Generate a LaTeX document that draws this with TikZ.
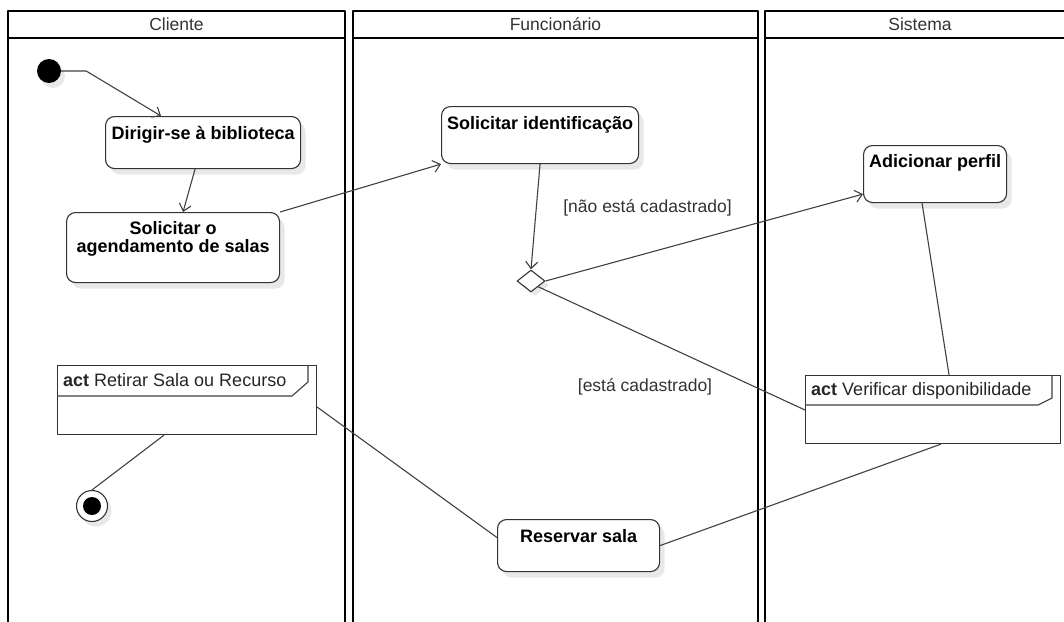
\documentclass[tikz,border=0pt]{standalone}
\usepackage{fontspec}
\setmainfont{Liberation Sans}
\usetikzlibrary{shapes.geometric, positioning, arrows.meta, calc, shadows}

\begin{document}
\begin{tikzpicture}[
    x=1pt, y=-1pt,
    line join=round,
    lane/.style={draw=black, line width=1.8pt},
    lanetitle/.style={font=\fontsize{17.5}{20}\selectfont, text=black!80},
    activity/.style={draw=black!80, line width=1.1pt, rounded corners=9pt, fill=white, inner xsep=2pt, inner ysep=0pt, align=center, anchor=north west, font=\fontsize{18}{18}\selectfont\bfseries, drop shadow={shadow xshift=5pt, shadow yshift=-6pt, fill=black!9, opacity=1}},
    decision/.style={draw=black!80, diamond, fill=white, minimum width=28pt, minimum height=22pt, inner sep=0pt, line width=1.1pt, drop shadow={shadow xshift=4pt, shadow yshift=-4pt, fill=black!9, opacity=1}},
    initial/.style={circle, fill=black, minimum size=24pt, inner sep=0pt, drop shadow={shadow xshift=4pt, shadow yshift=-5pt, fill=black!9, opacity=1}},
    final/.style={circle, draw=black!80, fill=white, minimum size=31pt, inner sep=0pt, line width=1.1pt, path picture={\fill[black] (path picture bounding box.center) circle (9pt);}, drop shadow={shadow xshift=4pt, shadow yshift=-5pt, fill=black!9, opacity=1}},
    frame/.style={draw=black!80, line width=1.1pt, fill=white, inner sep=0pt, anchor=north west},
    frametitle/.style={anchor=base west, inner sep=0pt, font=\fontsize{18}{20}\selectfont, text=black!85},
    flow/.style={draw=black!75, line width=1.1pt, -{Straight Barb[length=7pt,width=12pt]}},
    link/.style={draw=black!75, line width=1.1pt},
    guard/.style={font=\fontsize{17.5}{20}\selectfont, text=black!80}
]
    \useasboundingbox (0,0) rectangle (1064,621);
    \clip (0,0) rectangle (1064,621);

    % Swimlanes
    \draw[lane] (8,640) |- (345,11) -- (345,640);
    \draw[lane] (8,38) -- (345,38);
    \node[lanetitle] (cliente) at (176.5,24) {Cliente};

    \draw[lane] (353,640) |- (758,11) -- (758,640);
    \draw[lane] (353,38) -- (758,38);
    \node[lanetitle] (funcionario) at (555.5,24) {Funcionário};

    \draw[lane] (765,640) |- (1075,11) -- (1075,640);
    \draw[lane] (765,38) -- (1075,38);
    \node[lanetitle] (sistema) at (920,24) {Sistema};

    % Cliente
    \node[initial] (inicio) at (49,71) {};
    \node[activity, minimum width=195pt, text height=23pt, text depth=29pt] (dirigir) at (105,116) {Dirigir-se à biblioteca};
    \node[activity, minimum width=213pt, text height=40pt, text depth=30pt] (agendar) at (66,212) {Solicitar o\\agendamento de salas};

    \node[frame, minimum width=259pt, minimum height=69pt] (retirar) at (57,365) {};
    \draw[link] ([yshift=-31pt]retirar.north west) -- ++(235,0) -- ++(16,-14) -- ++(0,-17);
    \node[frametitle] (retirartitulo) at ([xshift=6pt,yshift=-21pt]retirar.north west) {\textbf{act} Retirar Sala ou Recurso};

    \node[final] (fim) at (92,506) {};

    % Funcionario
    \node[activity, minimum width=197pt, text height=23pt, text depth=34pt] (identificar) at (441,106) {Solicitar identificação};
    \node[decision] (cadastrado) at (531,281) {};
    \node[activity, minimum width=162pt, text height=23pt, text depth=29pt] (reservar) at (497,519) {Reservar sala};

    % Sistema
    \node[activity, minimum width=143pt, text height=22pt, text depth=35pt] (perfil) at (863,145) {Adicionar perfil};

    \node[frame, minimum width=255pt, minimum height=68pt] (verificar) at (805,375) {};
    \draw[link] ([yshift=-30pt]verificar.north west) -- ++(233,0) -- ++(14,-7) -- ++(0,-23);
    \node[frametitle] (verificartitulo) at ([xshift=6pt,yshift=-20pt]verificar.north west) {\textbf{act} Verificar disponibilidade};

    % Guards
    \node[guard] (naocad) at (647.5,208) {[não está cadastrado]};
    \node[guard] (simcad) at (645,387) {[está cadastrado]};

    % Flows
    \draw[flow] (inicio.east) -- ++(25,0) -- ([xshift=-42pt]dirigir.north);
    \draw[flow] ([xshift=-8pt]dirigir.south) -- ([xshift=10pt]agendar.north);
    \draw[flow] (agendar.north east) -- (identificar.south west);
    \draw[flow] (identificar.south) -- (cadastrado.north);
    \draw[flow] (cadastrado.east) -- ([yshift=9pt]perfil.south west);
    \draw[link] (cadastrado.south east) -- ([yshift=-35pt]verificar.north west);
    \draw[link] ([xshift=-13pt]perfil.south) -- ([xshift=16pt]verificar.north);
    \draw[link] ([xshift=8pt]verificar.south) -- (reservar.east);
    \draw[link] ([yshift=-7pt]retirar.east) -- ([yshift=8pt]reservar.west);
    \draw[link] ([xshift=-23pt]retirar.south) -- (fim.north);
\end{tikzpicture}
\end{document}
